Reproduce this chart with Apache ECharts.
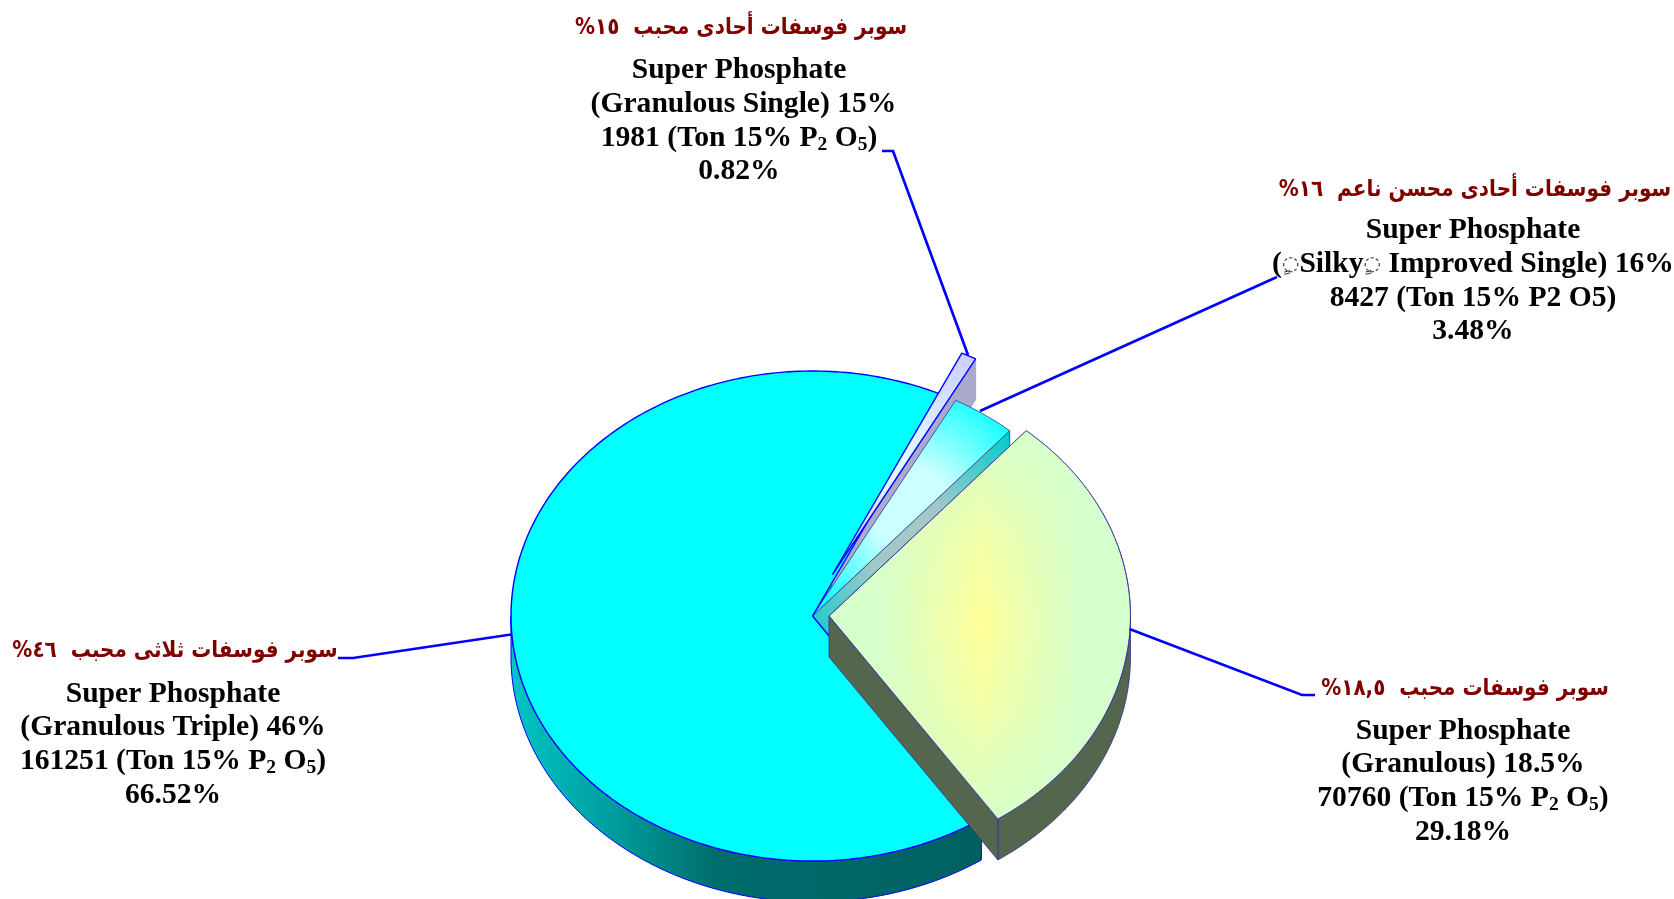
<!DOCTYPE html>
<html><head><meta charset="utf-8">
<style>html,body{margin:0;padding:0;background:#fff}#c{width:1674px;height:899px}</style>
<script src="https://cdn.jsdelivr.net/npm/echarts@6/dist/echarts.min.js"></script>
</head><body><div id="c"></div>
<script>
// ---- data ----
const categories = ['Granulous Triple','Granulous','Silky Improved Single','Granulous Single'];
const tons = [161251, 70760, 8427, 1981];
const shares = ['66.52%','29.18%','3.48%','0.82%'];
const arabicLabels = [
  'سوبر فوسفات ثلاثى محبب  ٤٦%',
  'سوبر فوسفات محبب  ١٨,٥%',
  'سوبر فوسفات أحادى محسن ناعم  ١٦%',
  'سوبر فوسفات أحادى محبب  ١٥%'
];
const gradeLines = [
  '(Granulous Triple) 46%',
  '(Granulous) 18.5%',
  '({d|\u25CC\u064D}Silky{d|\u25CC\u064D} Improved Single) 16%',
  '(Granulous Single) 15%'
];
const tonUnits = [
  ' (Ton 15% P{s|2} O{s|5})',
  ' (Ton 15% P{s|2} O{s|5})',
  ' (Ton 15% P2 O5)',
  ' (Ton 15% P{s|2} O{s|5})'
];
const titleLine = 'Super Phosphate';

// ---- layout and style ----
const CX = 812.5, CY = 616, RX = 301.5, RY = 245, DEPTH = 41;
const START_ANGLE = 64.6;
const explode = [[0,0],[16.5,0],[0,0],[20,-41.5]];
const sideZ = [1,20,3,2], topZ = [12,22,11,13];
const BLUE = '#0000ff', NAVY = '#333399';
const R = echarts.graphic.RadialGradient, L = echarts.graphic.LinearGradient;
const topFill = [
  '#00ffff',
  new L(0,0,1,0,[{offset:0,color:'#d4ffcc'},{offset:0.17,color:'#d6ffcb'},{offset:0.5,color:'#ffff99'},{offset:0.83,color:'#d6ffcb'},{offset:1,color:'#d4ffcc'}]),
  new R(0.5,0.5,0.68,[{offset:0,color:'#ccffff'},{offset:0.3,color:'#ccffff'},{offset:1,color:'#00ffff'}]),
  new R(0.5,0.5,0.9,[{offset:0,color:'#e0ffff'},{offset:1,color:'#ccccff'}])
];
const topOverlay = [null,
  new L(0,0,0,1,[{offset:0,color:'rgba(212,255,204,0.95)'},{offset:0.3,color:'rgba(212,255,204,0.25)'},{offset:0.5,color:'rgba(212,255,204,0)'},{offset:0.7,color:'rgba(212,255,204,0.25)'},{offset:1,color:'rgba(212,255,204,0.95)'}]),
  null,null];
const sideFill = [
  new L(0,0,1,0,[{offset:0,color:'#00c4c4'},{offset:0.2,color:'#00a0a0'},{offset:0.44,color:'#006c6c'},{offset:1,color:'#006060'}]),
  '#55664f',
  new R(0.5,0.5,0.75,[{offset:0,color:'#a6c8c8'},{offset:0.3,color:'#a0c8c8'},{offset:1,color:'#00cccc'}]),
  '#aaaacc'
];
const edge = [[BLUE,1.4],[NAVY,0.8],[NAVY,0.8],[BLUE,1.4]];
const sideEdge = [[BLUE,1],[NAVY,0.8],[NAVY,0.8],['#9999cc',0.8]];
const labelCenter = [173, 1463, 1473, 739];
const gradeShift = [0, 0, 0, 4.5];
const arabicCenter = [175, 1465, 1475, 741];
const arabicY = [651, 689, 190, 28];
const firstBaseline = [701, 738, 237.7, 77.7];
const LINE = 33.7;
const leaders = [
  [[338,658],[353,658],[511,634.5]],
  [[1315,695],[1302,695],[1129.5,629]],
  [[1277,277],[980,411]],
  [[882,151],[893,151],[968,355]]
];

// ---- geometry from the values ----
const total = tons.reduce((a,b)=>a+b,0);
const spans = [];
tons.reduce((a,v)=>{const s=v/total*360; spans.push([a,a+s]); return a+s;}, START_ANGLE);
const rad = d=>d*Math.PI/180;
const P = (i,a,drop)=>[CX+explode[i][0]+RX*Math.cos(rad(a)), CY+explode[i][1]+RY*Math.sin(-rad(a))+(drop||0)];
const apex = (i,drop)=>[CX+explode[i][0], CY+explode[i][1]+(drop||0)];
function arc(i,a0,a1,drop){const n=Math.max(2,Math.ceil(Math.abs(a1-a0)));const o=[];for(let k=0;k<=n;k++)o.push(P(i,a0+(a1-a0)*k/n,drop));return o;}
const poly=(points,fill,e,z2)=>({type:'polygon',shape:{points},z2,silent:true,style:{fill,stroke:e[0],lineWidth:e[1],lineJoin:'bevel'}});

function sliceElements(i){
  const [a0,a1]=spans[i], out=[];
  [[180,360],[540,720],[-180,0]].forEach(([lo,hi])=>{
    const s=Math.max(a0,lo), e=Math.min(a1,hi);
    if(e>s) out.push(poly(arc(i,s,e,0).concat(arc(i,e,s,DEPTH)),sideFill[i],sideEdge[i],sideZ[i]));
  });
  if(Math.cos(rad(a0))>0) out.push(poly([apex(i),P(i,a0),P(i,a0,DEPTH),apex(i,DEPTH)],sideFill[i],sideEdge[i],sideZ[i]));
  if(Math.cos(rad(a1))<0) out.push(poly([apex(i),P(i,a1),P(i,a1,DEPTH),apex(i,DEPTH)],sideFill[i],sideEdge[i],sideZ[i]));
  const top=[apex(i)].concat(arc(i,a0,a1));
  out.push(poly(top,topFill[i],edge[i],topZ[i]));
  if(topOverlay[i]) out.push(poly(top,topOverlay[i],edge[i],topZ[i]+1));
  return out;
}
const serif='"Liberation Serif","Times New Roman",serif';
const rich={
  m:{fontFamily:serif,fontWeight:'bold',fontSize:29.6,lineHeight:34,fill:'#000'},
  s:{fontFamily:serif,fontWeight:'bold',fontSize:19.5,lineHeight:16,verticalAlign:'bottom',fill:'#000'},
  d:{fontFamily:'"DejaVu Sans"',fontWeight:'normal',fontSize:20,lineHeight:34,fill:'#333'}
};
const wrap=s=>s.split(/(\{[sd]\|[^}]*\})/).filter(Boolean).map(t=>t[0]==='{'?t:'{m|'+t+'}').join('');
function line(text,x,base){return {type:'text',z2:40,silent:true,style:{text:wrap(text),x,y:base-7,rich,textAlign:'center',textVerticalAlign:'middle',font:'bold 29.6px '+serif}};}
function labelElements(i){
  const x=labelCenter[i],b=firstBaseline[i];
  return [
    {type:'polyline',shape:{points:leaders[i]},z2:30,silent:true,style:{stroke:BLUE,lineWidth:2.7,fill:null}},
    {type:'text',z2:40,silent:true,x:arabicCenter[i],y:arabicY[i],scaleY:1.15,style:{text:'\u202B'+arabicLabels[i]+'\u202C',x:0,y:0,fill:'#800000',font:'bold 20px "DejaVu Sans"',textAlign:'center',textVerticalAlign:'middle'}},
    line(titleLine,x,b),
    line(gradeLines[i],x+gradeShift[i],b+LINE),
    line(tons[i]+tonUnits[i],x,b+2*LINE),
    line(shares[i],x,b+3*LINE)
  ];
}
const chart=echarts.init(document.getElementById('c'),null,{renderer:'canvas'});
chart.setOption({
  animation:false,
  backgroundColor:'#ffffff',
  series:[{
    type:'custom',coordinateSystem:'none',clip:false,
    data:tons.map((v,i)=>({name:categories[i],value:[v,i]})),
    renderItem:(p,api)=>{const i=api.value(1);return {type:'group',children:labelElements(i).concat(sliceElements(i))};}
  }]
});
</script></body></html>
